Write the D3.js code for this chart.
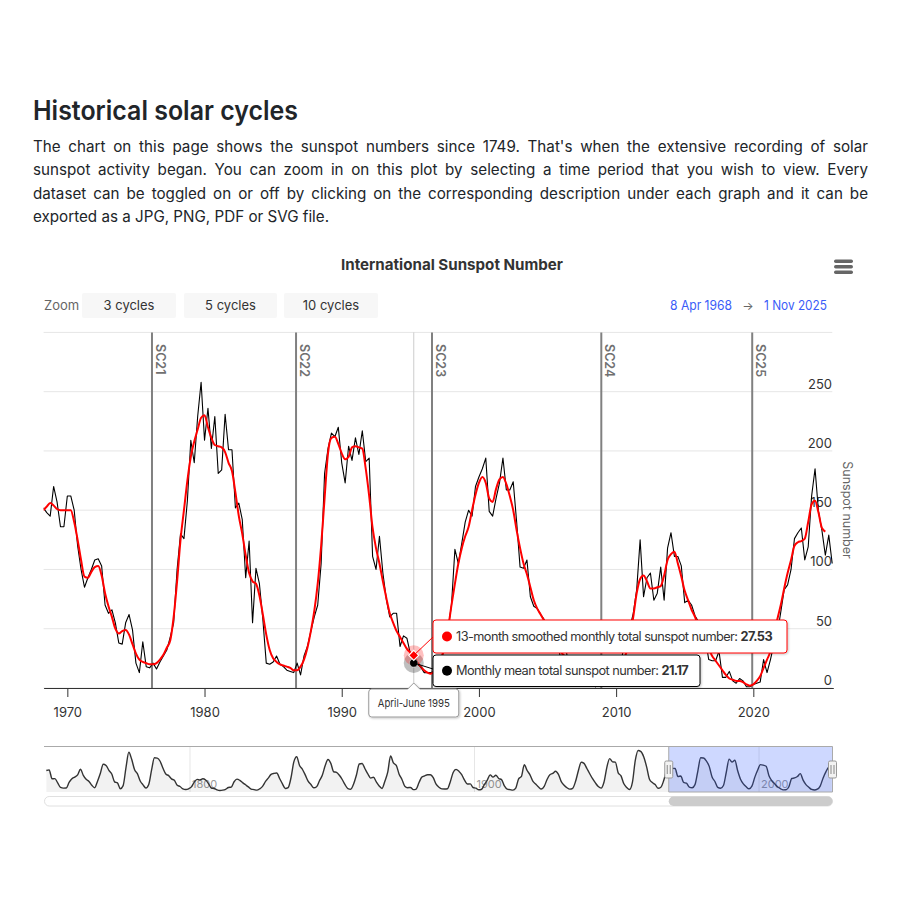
<!DOCTYPE html>
<html><head><meta charset="utf-8">
<script src="https://cdn.jsdelivr.net/npm/d3@7"></script>
<style>
html,body{margin:0;padding:0;background:#fff;}
svg{display:block;font-family:Inter,"Noto Sans",sans-serif;}
</style></head>
<body>
<svg id="c" width="900" height="900"></svg>
<script>
// ---------------- DATA ----------------
const headingText = "Historical solar cycles";
const paragraphLines = [
  "The chart on this page shows the sunspot numbers since 1749. That's when the extensive recording of solar",
  "sunspot activity began. You can zoom in on this plot by selecting a time period that you wish to view. Every",
  "dataset can be toggled on or off by clicking on the corresponding description under each graph and it can be",
  "exported as a JPG, PNG, PDF or SVG file."
];
const chartTitle = "International Sunspot Number";
const zoomLabel = "Zoom";
const zoomButtons = ["3 cycles", "5 cycles", "10 cycles"];
const rangeFrom = "8 Apr 1968", rangeTo = "1 Nov 2025";
const viewStart = 1968.27, viewEnd = 2025.83;
const yTicks = [0, 50, 100, 150, 200, 250, 300];
const xTicks = [1970, 1980, 1990, 2000, 2010, 2020];
const navTicks = [1800, 1900, 2000];
const yTitle = "Sunspot number";
const cycleNames = ["SC21", "SC22", "SC23", "SC24", "SC25"];
const cycleStarts = [1976.17, 1986.67, 1996.58, 2008.92, 2019.92];
const seriesNames = ["13-month smoothed monthly total sunspot number", "Monthly mean total sunspot number"];

// quarterly values (3-month groups), first group = Apr-Jun 1968
const firstQuarter = 1968.25;
const monthlyMean = [
  152,148,145,
  170,157,136,136, 162,162,150,120, 100,85,93,100, 108,109,103,70, 63,66,55,38,
  37,55,62,49, 21,13,39,18, 17,21,16,22, 27,32,43,55, 100,130,126,158,
  209,190,229,258, 209,236,202,229, 181,184,231,201, 201,152,156,142, 93,124,55,101,
  88,58,21,20, 22,27,20,18, 15,14,13,21, 11,27,35,48, 60,70,105,181,
  202,215,212,220, 190,173,204,192, 211,197,217,191, 194,111,100,128, 97,75,60,63,
  63,35,44,42, 29,21.17,20,18, 13,13,13,14, 11,22,36,50, 70,117,105,122,
  140,150,145,170, 178,185,194,149, 145,160,173,194, 167,167,174,140, 102,101,108,77,
  69,67,62,58, 44,52,50,37, 22,41,21,25, 17,15,9,8, 5,5,1,5,
  2,3,4,10, 25,14,31,30, 51,63,83,125, 77,93,97,74, 80,102,74,118,
  131,111,111,103, 72,74,70,61, 56,37,42,24, 23,23,31,9, 9,14,6,4,
  8,6,1,1, 3,4,5,24, 13,24,37,46, 64,83,87,100, 126,131,135,108,
  119,162,185,149, 133,112,129,105
];
const smoothed = [
  150,153,156,
  154,151,150,150, 150,150,140,125, 108,94,93,98, 102,103,95,80, 69,60,50,46,
  48,49,45,37, 29,24,22,21, 20,20,21,24, 28,34,40,60, 90,125,150,175,
  195,208,218,228, 230,220,211,205, 204,203,199,190, 183,165,145,130, 112,97,90,88,
  78,62,45,32, 25,22,20,19, 18,17,15,15, 18,24,34,48, 65,88,120,160,
  198,211,212,206, 198,193,195,203, 204,203,202,185, 162,135,118,105, 90,76,63,55,
  48,43,38,33, 30,27.53,22,18, 15,13,12,14, 18,25,35,50, 70,88,105,118,
  128,136,150,163, 173,178,173,160, 157,168,176,178, 172,162,150,133, 118,105,96,85,
  74,67,62,57, 52,47,42,36, 30,27,24,20, 17,14,11,8, 6,5,4,3,
  2.5,3,5,9, 14,18,23,30, 42,60,80,92, 95,90,84,84, 85,86,95,108,
  113,115,105,94, 82,74,66,60, 52,44,38,33, 27,23,19,15, 11,8,7,6,
  6,5,3,2, 3,6,10,17, 24,31,45,58, 70,84,97,108, 120,123,124,126,
  140,155,158,148, 135,132
];
const hoverLabel = "April-June 1995";
const hoverTime = 1995.25;

// yearly means for the navigator, 1749 onward
const navFirstYear = 1749;
const yearlyMean = [
  134.7,139.0,79.5,79.7,51.2,20.3,16.0,17.0,54.0,79.3,
  90.0,104.8,143.2,102.0,75.2,60.7,34.8,19.0,63.0,116.3,
  176.8,168.0,136.0,110.8,58.0,51.0,11.7,33.0,154.2,257.3,
  209.8,141.3,113.5,64.2,38.0,17.0,40.2,138.2,220.0,218.2,
  196.8,149.8,111.0,100.0,78.2,68.3,35.5,26.7,10.7,6.8,
  11.3,24.2,56.7,75.0,71.8,79.2,70.3,46.8,16.8,13.5,
  4.2,0.0,2.3,8.3,20.3,23.2,59.0,76.3,68.3,52.9,
  38.5,24.2,9.2,6.3,2.2,11.4,28.2,59.9,83.0,108.5,
  115.2,117.4,80.8,44.3,13.4,19.5,85.8,192.7,227.3,168.7,
  143.0,105.5,63.3,40.3,18.1,25.1,65.8,102.7,166.3,208.3,
  182.5,126.3,122.0,102.7,74.1,39.0,12.7,8.2,43.4,104.4,
  178.3,182.2,146.6,112.1,83.5,89.2,57.8,30.7,13.9,62.8,
  123.6,232.0,185.3,169.2,110.1,74.5,28.3,18.9,20.7,5.7,
  10.0,53.7,90.5,99.0,106.1,105.8,86.3,42.4,21.8,11.2,
  10.4,11.8,59.5,121.7,142.0,130.0,106.6,69.4,43.8,44.4,
  20.2,15.7,4.6,8.5,40.8,70.1,105.5,90.1,102.8,80.9,
  73.2,30.9,9.5,6.0,2.4,16.1,79.0,95.0,173.6,134.6,
  105.7,62.7,43.5,23.7,9.7,27.9,74.0,106.5,114.7,129.7,
  108.2,59.4,35.1,18.6,9.2,14.6,60.2,132.8,190.6,182.6,
  148.0,113.0,79.2,50.8,27.1,16.1,55.3,154.3,214.7,193.0,
  190.7,118.9,98.3,45.0,20.1,6.6,54.2,200.7,269.3,261.7,
  225.1,159.0,76.4,53.4,39.9,15.0,22.0,66.8,132.9,150.0,
  149.4,148.0,94.4,97.6,54.1,49.2,22.5,18.4,39.3,131.0,
  220.1,218.9,198.9,162.4,91.0,60.5,20.6,14.8,33.9,123.0,
  211.1,191.8,203.3,133.0,76.1,44.9,25.1,11.6,28.9,88.3,
  136.3,173.9,170.4,163.6,99.3,65.3,45.8,24.7,12.6,4.2,
  4.8,24.9,80.8,84.5,94.0,113.3,69.8,39.8,21.7,7.0,
  3.6,8.8,29.6,83.2,125.5,154.7,125.0
];

// ---------------- DRAW ----------------
const svg = d3.select("#c");
const defs = svg.append("defs");
const sh = defs.append("filter").attr("id","shadow").attr("x","-10%").attr("y","-30%").attr("width","130%").attr("height","180%");
sh.append("feDropShadow").attr("dx",1).attr("dy",1).attr("stdDeviation",1.3).attr("flood-color","#000").attr("flood-opacity",0.22);

function fit(sel, w){
  const l = sel.node().getComputedTextLength();
  if (Math.abs(l - w) > 1) sel.attr("textLength", w).attr("lengthAdjust","spacingAndGlyphs");
  return sel;
}
// fit by letter-spacing, then by font size if needed
function fitLS(sel, w, fs, minLS){
  sel.attr("font-size", fs).attr("letter-spacing", 0);
  const n = sel.text().length;
  let l = sel.node().getComputedTextLength();
  let ls = Math.max((w - l) / n, minLS);
  sel.attr("letter-spacing", ls);
  l = sel.node().getComputedTextLength();
  if (l > w + 0.5) sel.attr("font-size", fs * w / l);
  return sel;
}

// heading + paragraph
fit(svg.append("text").attr("x",33).attr("y",120).attr("font-size",27).attr("font-weight",600)
  .attr("fill","#212529").text(headingText), 265);

const paraX = 33, paraW = 835;
paragraphLines.forEach((line,i)=>{
  const t = svg.append("text").attr("x",paraX).attr("y",152+i*23.3).attr("font-size",15.2)
    .attr("fill","#212529").text(line);
  if (i < paragraphLines.length-1){
    const l = t.node().getComputedTextLength();
    const spaces = (line.match(/ /g)||[]).length;
    const ws = (paraW - l)/spaces;
    if (ws >= -0.5) t.attr("word-spacing", ws);
    else t.attr("textLength", paraW).attr("lengthAdjust","spacingAndGlyphs");
  }
});

// chart title
fit(svg.append("text").attr("x",452).attr("y",269.5).attr("text-anchor","middle").attr("font-size",15)
  .attr("font-weight",700).attr("fill","#333").text(chartTitle), 222);

// hamburger
[0,1,2].forEach(i=>svg.append("rect").attr("x",834).attr("y",259.5+i*5.5).attr("width",19).attr("height",3.4)
  .attr("rx",1.7).attr("fill","#666"));

// zoom row
svg.append("text").attr("x",44).attr("y",310).attr("font-size",13).attr("fill","#666").text(zoomLabel);
const btnX = [82,184,284], btnW = [94,93,94];
zoomButtons.forEach((b,i)=>{
  svg.append("rect").attr("x",btnX[i]).attr("y",293).attr("width",btnW[i]).attr("height",25).attr("rx",2).attr("fill","#f7f7f7");
  svg.append("text").attr("x",btnX[i]+btnW[i]/2).attr("y",310).attr("text-anchor","middle").attr("font-size",13)
    .attr("fill","#333").text(b);
});
fit(svg.append("text").attr("x",827).attr("y",310).attr("text-anchor","end").attr("font-size",13).attr("fill","#3a5cf8").text(rangeTo),63);
svg.append("text").attr("x",748).attr("y",309.5).attr("text-anchor","middle").attr("font-size",12).attr("fill","#666").text("\u2192");
fit(svg.append("text").attr("x",732).attr("y",310).attr("text-anchor","end").attr("font-size",13).attr("fill","#3a5cf8").text(rangeFrom),62);

// scales
const L = 43.6, R = 833.3, T = 332.4, B = 688;
const x = d3.scaleLinear().domain([viewStart, viewEnd]).range([L, R]);
const y = d3.scaleLinear().domain([0, 300]).range([B, T]);

defs.append("clipPath").attr("id","plotclip").append("rect").attr("x",L).attr("y",T-5).attr("width",R-L).attr("height",B-T+5);

// gridlines
svg.append("g").selectAll("line").data(yTicks).join("line")
  .attr("x1",L).attr("x2",R-1).attr("y1",d=>y(d)).attr("y2",d=>y(d)).attr("stroke","#e6e6e6").attr("stroke-width",1);

// crosshair (behind series)
svg.append("line").attr("x1",x(hoverTime)).attr("x2",x(hoverTime)).attr("y1",T).attr("y2",B)
  .attr("stroke","#cccccc").attr("stroke-width",1);

// cycle lines
cycleStarts.forEach((c,i)=>{
  svg.append("line").attr("x1",x(c)).attr("x2",x(c)).attr("y1",T).attr("y2",B).attr("stroke","#808080").attr("stroke-width",2);
  svg.append("text").attr("transform",`translate(${x(c)+4},${344}) rotate(90)`).attr("font-size",12.5)
    .attr("font-weight",600).attr("fill","#707070").text(cycleNames[i]);
});

// y labels
svg.append("g").selectAll("text").data(yTicks.filter(d=>d<300)).join("text")
  .attr("x",832).attr("y",d=>y(d)-3).attr("text-anchor","end").attr("font-size",13).attr("fill","#333").text(d=>d);
svg.append("text").attr("transform",`translate(843,510) rotate(90)`).attr("text-anchor","middle")
  .attr("font-size",12.5).attr("fill","#666").text(yTitle);

// series
const meanPts = monthlyMean.map((v,i)=>({t:firstQuarter+i*0.25, v}));
const smPts = smoothed.map((v,i)=>({t:firstQuarter+i*0.25, v}));
const plot = svg.append("g").attr("clip-path","url(#plotclip)");
plot.append("path").datum(meanPts).attr("fill","none").attr("stroke","#000").attr("stroke-width",1.1)
  .attr("stroke-linejoin","round").attr("d", d3.line().x(d=>x(d.t)).y(d=>y(d.v)));
plot.append("path").datum(smPts).attr("fill","none").attr("stroke","#ff0000").attr("stroke-width",2)
  .attr("stroke-linejoin","round").attr("d", d3.line().curve(d3.curveMonotoneX).x(d=>x(d.t)).y(d=>y(d.v)));

// x axis
const xa = svg.append("g").attr("transform",`translate(0,${B})`)
  .call(d3.axisBottom(x).tickValues(xTicks).tickFormat(d3.format("d")).tickSize(9).tickSizeOuter(0).tickPadding(11));
xa.select(".domain").attr("stroke","#333");
xa.selectAll(".tick line").attr("stroke","#333");
xa.selectAll(".tick text").attr("font-size",13).attr("fill","#333").attr("font-family","Inter,'Noto Sans',sans-serif");

// hover markers
const hi = Math.round((hoverTime - firstQuarter)/0.25);
const hx = x(hoverTime), hyS = y(smoothed[hi]), hyM = y(monthlyMean[hi]);
svg.append("circle").attr("cx",hx).attr("cy",hyM).attr("r",10).attr("fill","#000").attr("opacity",0.25);
svg.append("circle").attr("cx",hx).attr("cy",hyS).attr("r",10).attr("fill","#ff0000").attr("opacity",0.25);
svg.append("circle").attr("cx",hx).attr("cy",hyM).attr("r",4.2).attr("fill","#000").attr("stroke","#fff").attr("stroke-width",0.5);
svg.append("path").attr("d",`M${hx},${hyS-5}L${hx+5},${hyS}L${hx},${hyS+5}L${hx-5},${hyS}Z`)
  .attr("fill","#ff0000").attr("stroke","#fff").attr("stroke-width",1.2);

// tooltips
function tip(yTop, h, w, color, name, val, textW){
  const bx = 433;
  svg.append("rect").attr("x",bx).attr("y",yTop).attr("width",w).attr("height",h).attr("rx",3)
    .attr("fill","#fff").attr("stroke",color).attr("stroke-width",1).attr("filter","url(#shadow)");
  svg.append("circle").attr("cx",bx+14).attr("cy",yTop+h/2).attr("r",5).attr("fill",color);
  const t = svg.append("text").attr("x",bx+23).attr("y",yTop+h/2+4.6).attr("fill","#333");
  t.append("tspan").text(name + ": ");
  t.append("tspan").attr("font-weight",700).text(d3.format(".2f")(val));
  fitLS(t, textW, 13, -0.55);
}
svg.append("line").attr("x1",hx).attr("y1",hyS).attr("x2",433).attr("y2",637).attr("stroke","#ff0000").attr("stroke-width",1);
svg.append("line").attr("x1",hx).attr("y1",hyM).attr("x2",433).attr("y2",669).attr("stroke","#000").attr("stroke-width",1);
tip(620, 33, 354, "#ff0000", seriesNames[0], smoothed[hi], 317);
tip(655, 31.5, 267, "#000000", seriesNames[1], monthlyMean[hi], 233);

// x label tooltip
const lbx = hx - 45, lby = 689;
svg.append("path").attr("d",`M${lbx+3},${lby} H${hx-6} L${hx},${lby-6} L${hx+6},${lby} H${lbx+87} Q${lbx+90},${lby} ${lbx+90},${lby+3} V${lby+25} Q${lbx+90},${lby+28} ${lbx+87},${lby+28} H${lbx+3} Q${lbx},${lby+28} ${lbx},${lby+25} V${lby+3} Q${lbx},${lby} ${lbx+3},${lby} Z`)
  .attr("fill","#fff").attr("stroke","#999").attr("stroke-width",1).attr("filter","url(#shadow)");
fit(svg.append("text").attr("x",hx).attr("y",lby+18).attr("text-anchor","middle").attr("font-size",11).attr("fill","#333").text(hoverLabel),72);

// ---------------- NAVIGATOR ----------------
const NT = 746, NB = 792;
const nx = d3.scaleLinear().domain([navFirstYear, viewEnd]).range([44.9, 832.5]);
const ny = d3.scaleLinear().domain([0, d3.max(yearlyMean)]).range([790.5, 750.5]);
const navPts = yearlyMean.map((v,i)=>({t:navFirstYear+i+0.5, v}));
svg.append("g").selectAll("line").data(navTicks).join("line")
  .attr("x1",d=>nx(d)).attr("x2",d=>nx(d)).attr("y1",NT).attr("y2",NB).attr("stroke","#e6e6e6");
svg.append("g").selectAll("text").data(navTicks).join("text")
  .attr("x",d=>nx(d)+2).attr("y",788).attr("font-size",11).attr("fill","#999").text(d=>d);
svg.append("path").datum(navPts).attr("fill","rgba(0,0,0,0.05)")
  .attr("d", d3.area().curve(d3.curveMonotoneX).x(d=>nx(d.t)).y0(NB).y1(d=>ny(d.v)));
svg.append("path").datum(navPts).attr("fill","none").attr("stroke","#333").attr("stroke-width",1.4)
  .attr("d", d3.line().curve(d3.curveMonotoneX).x(d=>nx(d.t)).y(d=>ny(d.v)));
const mx0 = nx(viewStart), mx1 = nx(viewEnd);
svg.append("rect").attr("x",mx0).attr("y",NT).attr("width",mx1-mx0).attr("height",NB-NT)
  .attr("fill","rgba(51,92,255,0.24)");
svg.append("path").attr("d",`M44,${NT+0.5} H${mx1} V${NB} H${mx0} V${NT+0.5}`).attr("fill","none").attr("stroke","#aaa").attr("stroke-width",1);
[mx0, mx1].forEach(hxp=>{
  svg.append("rect").attr("x",hxp-4).attr("y",761).attr("width",8).attr("height",17).attr("rx",1.5)
    .attr("fill","#f2f2f2").attr("stroke","#999");
  svg.append("line").attr("x1",hxp-1.5).attr("x2",hxp-1.5).attr("y1",765).attr("y2",774).attr("stroke","#888");
  svg.append("line").attr("x1",hxp+1.5).attr("x2",hxp+1.5).attr("y1",765).attr("y2",774).attr("stroke","#888");
});
// scrollbar
svg.append("rect").attr("x",44.5).attr("y",796.5).attr("width",788).attr("height",9.5).attr("rx",4.7)
  .attr("fill","#fff").attr("stroke","#e0e0e0");
svg.append("rect").attr("x",mx0).attr("y",796.5).attr("width",mx1-mx0).attr("height",9.5).attr("rx",4.7).attr("fill","#cccccc");
</script>
</body></html>
